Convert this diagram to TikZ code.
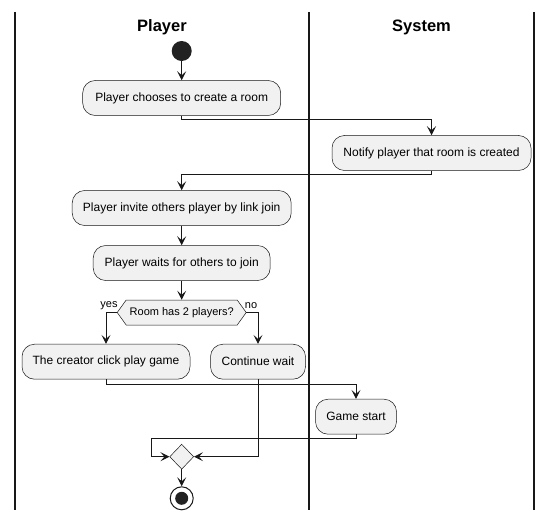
\documentclass[tikz,border=0pt]{standalone}
\usepackage{fontspec}
\setmainfont{Liberation Sans}
\usetikzlibrary{arrows.meta,shapes.geometric}
\definecolor{fg}{HTML}{181818}
\definecolor{boxfill}{HTML}{F1F1F1}
\definecolor{dot}{HTML}{222222}
\begin{document}
\begin{tikzpicture}[x=1pt,y=-1pt,
  act/.style={rectangle, rounded corners=12.5pt, draw=fg, line width=0.5pt, fill=boxfill,
    font=\fontsize{12}{14}\selectfont, minimum height=35pt, inner sep=0pt, align=center},
  conn/.style={draw=fg, line width=1pt, -{Stealth[length=9pt,width=9pt,inset=4pt]}},
  lane/.style={draw=fg, line width=1.5pt},
  lanetitle/.style={font=\fontsize{16.5}{20}\selectfont\bfseries, text=black},
  lbl/.style={font=\fontsize{11}{13}\selectfont, inner sep=0pt},
  hexshape/.style={draw=fg, line width=0.5pt, fill=boxfill},
  dectext/.style={font=\fontsize{11}{13}\selectfont, minimum width=129pt, minimum height=25pt, inner sep=0pt},
  startdot/.style={circle, fill=dot, minimum size=20pt, inner sep=0pt},
  mergeshape/.style={diamond, draw=fg, line width=0.5pt, fill=boxfill, minimum width=24pt, minimum height=25pt, inner sep=0pt},
  endring/.style={circle, draw=fg, line width=1pt, fill=white, minimum size=23pt, inner sep=0pt},
  endcore/.style={circle, fill=dot, minimum size=13pt, inner sep=0pt}
]
\useasboundingbox (0,0) rectangle (553,521);
\fill[white] (0,0) rectangle (553,521);

% swimlanes
\draw[lane] (15,12) -- (15,510);
\draw[lane] (309,12) -- (309,510);
\draw[lane] (534,12) -- (534,510);
\node[lanetitle] (tplayer) at (162,27.5) {Player};
\node[lanetitle] (tsystem) at (421.5,27.5) {System};

% nodes
\node[startdot] (start) at (181.7,51) {};
\node[act, minimum width=198pt] (b1) at (181.7,98) {Player chooses to create a room};
\node[act, minimum width=199pt] (b2) at (431.5,153) {Notify player that room is created};
\node[act, minimum width=219pt] (b3) at (181.7,208) {Player invite others player by link join};
\node[act, minimum width=177pt] (b4) at (181.7,263) {Player waits for others to join};
\draw[hexshape] (117.2,312.5) -- (126.2,300) -- (237.2,300) -- (246.2,312.5) -- (237.2,325) -- (126.2,325) -- cycle;
\node[dectext] (dec) at (181.7,312.5) {Room has 2 players?};
\node[act, minimum width=168pt] (b5) at (106,361.7) {The creator click play game};
\node[act, minimum width=95pt] (b6) at (258,361.7) {Continue wait};
\node[act, minimum width=81pt] (b7) at (356,416.7) {Game start};
\node[mergeshape] (m) at (181.7,456.7) {};
\node[endring] (end) at (181.7,498.3) {};
\node[endcore] (endin) at (end.center) {};
\coordinate (mleft) at (151.7,456.7);

% labels
\node[lbl] (lyes) at (109,306) {yes};
\node[lbl] (lno) at (251,306) {no};

% connectors
\draw[conn] (start) -- (b1);
\draw[conn] (b1.south) -- ++(0,4) -| (b2.north);
\draw[conn] (b2.south) -- ++(0,3.5) -| (b3.north);
\draw[conn] (b3) -- (b4);
\draw[conn] (b4) -- (dec.north);
\draw[conn] (dec.west) -| (b5.north);
\draw[conn] (dec.east) -| (b6.north);
\draw[conn] (b5.south) -- ++(0,5) -| (b7.north);
\draw[conn] (b7.south) -- ++(0,4) -| (mleft) -- (m.west);
\draw[conn] (b6.south) |- (m.east);
\draw[conn] (m.south) -- (end.north);
\end{tikzpicture}
\end{document}
